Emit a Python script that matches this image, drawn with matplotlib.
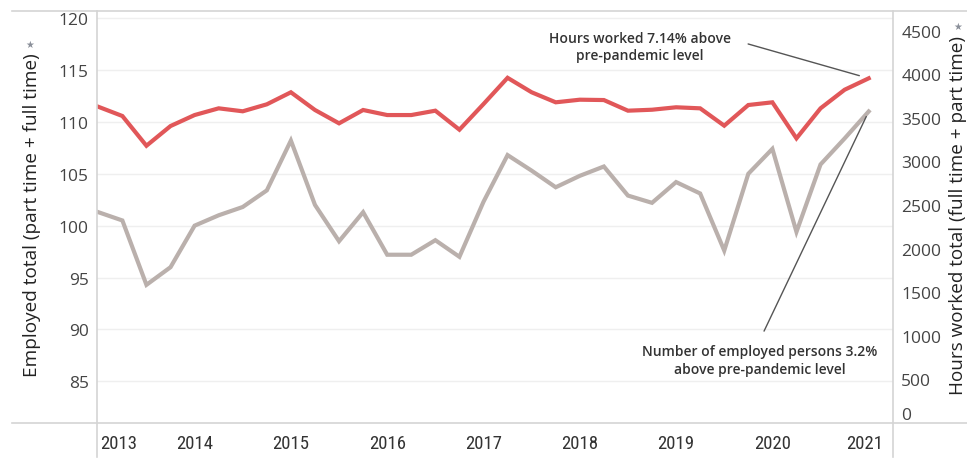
import matplotlib
matplotlib.use("Agg")
import matplotlib.pyplot as plt
from matplotlib.lines import Line2D
from matplotlib.transforms import ScaledTranslation

# ---- data (quarterly, 2013 Q1 .. 2021 Q1) ----
quarters = list(range(33))
employed_total = [101.3, 100.5, 94.3, 96.0, 100.0, 101.0, 101.8, 103.4, 108.2, 102.0,
                  98.5, 101.3, 97.2, 97.2, 98.6, 97.0, 102.3, 106.8, 105.3, 103.7,
                  104.8, 105.7, 102.9, 102.2, 104.2, 103.1, 97.6, 105.0, 107.4, 99.4,
                  105.9, 108.4, 111.0]
hours_worked = [3626, 3520, 3179, 3405, 3531, 3608, 3574, 3654, 3792, 3589,
                3436, 3589, 3531, 3531, 3581, 3363, 3657, 3958, 3792, 3677,
                3707, 3703, 3581, 3592, 3620, 3608, 3409, 3646, 3677, 3264,
                3608, 3821, 3952]
year_ticks = [0, 4, 8, 12, 16, 20, 24, 28, 32]
year_labels = ["2013", "2014", "2015", "2016", "2017", "2018", "2019", "2020", "2021"]
left_ticks = [85, 90, 95, 100, 105, 110, 115, 120]
right_ticks = [0, 500, 1000, 1500, 2000, 2500, 3000, 3500, 4000, 4500]

RED = "#e15759"
GRAY = "#bab0ac"
TXT = "#444444"
FRAME = "#d4d4d4"
GRID = "#efefef"

W, H = 967, 460
fig = plt.figure(figsize=(W / 100, H / 100), dpi=100)
x0, x1, ytop, ybot = 97, 893, 12, 424
ax = fig.add_axes([x0 / W, 1 - ybot / H, (x1 - x0) / W, (ybot - ytop) / H])
ax2 = ax.twinx()

ax.set_xlim(-0.054, 33.01)
ax.set_ylim(80.99, 120.68)
ax2.set_ylim(0, 4724)

ax.set_yticks(left_ticks)
ax.set_yticklabels([str(t) for t in left_ticks])
ax2.set_yticks(right_ticks)
ax2.set_yticklabels([str(t) for t in right_ticks])
ax.grid(axis="y", color=GRID, lw=1)
ax.set_axisbelow(True)

ax.plot(quarters, employed_total, color=GRAY, lw=3.0, solid_joinstyle="miter", zorder=3)
ax2.plot(quarters, hours_worked, color=RED, lw=3.0, solid_joinstyle="miter", zorder=3)

for a in (ax, ax2):
    for s in a.spines.values():
        s.set_visible(False)
    a.tick_params(length=0, colors=TXT, labelsize=12.5)
    for lab in a.get_yticklabels():
        lab.set_family(["Open Sans", "DejaVu Sans"])
ax.tick_params(axis="y", pad=6)
ax2.tick_params(axis="y", pad=6)
rl = ax2.get_yticklabels()
rl[0].set_va("bottom")

ax.set_xticks(year_ticks)
ax.set_xticklabels(year_labels)
ax.tick_params(axis="x", pad=8, labelsize=13.5, colors="#333333")
xl = ax.get_xticklabels()
for lab in xl:
    lab.set_family(["Roboto Condensed", "Roboto", "DejaVu Sans"])
xl[0].set_ha("left")
xl[-1].set_ha("right")
xl[-1].set_transform(xl[-1].get_transform() + ScaledTranslation(14 / 100, 0, fig.dpi_scale_trans))
xl[0].set_transform(xl[0].get_transform() + ScaledTranslation(2 / 100, 0, fig.dpi_scale_trans))

# frame lines
fig.add_artist(Line2D([12 / W, 1], [1 - ytop / H] * 2, color=FRAME, lw=1.2))
fig.add_artist(Line2D([12 / W, 1], [1 - ybot / H] * 2, color=FRAME, lw=1.2))
fig.add_artist(Line2D([x0 / W] * 2, [1 - ytop / H, 1 - 458 / H], color=FRAME, lw=1.2))
fig.add_artist(Line2D([x1 / W] * 2, [1 - ytop / H, 1 - 458 / H], color=FRAME, lw=1.2))

# axis titles
fig.text(32 / W, 1 - 215 / H, "Employed total (part time + full time)", rotation=90,
         ha="center", va="center", fontsize=13.7, color="#222222", family=["Open Sans", "DejaVu Sans"])
fig.text(30 / W, 1 - 45 / H, "★", ha="center", va="center", fontsize=7, color="#8a8f99")
fig.text(958 / W, 1 - 216 / H, "Hours worked total (full time + part time)", rotation=90,
         ha="center", va="center", fontsize=13.6, color="#222222", family=["Open Sans", "DejaVu Sans"])
fig.text(958 / W, 1 - 27 / H, "★", ha="center", va="center", fontsize=7, color="#8a8f99")

# annotations
ax2.annotate("", xy=(quarters[-1], hours_worked[-1]), xycoords="data",
             xytext=(0.818, 0.920), textcoords="axes fraction",
             arrowprops=dict(arrowstyle="-", color="#555555", lw=1, shrinkA=0, shrinkB=7))
ax.text(0.682, 0.914, "Hours worked 7.14% above\npre-pandemic level", transform=ax.transAxes,
        ha="center", va="center", fontsize=10, color="#333333", weight="semibold",
        family=["Open Sans", "DejaVu Sans"], linespacing=1.35, zorder=5)
ax.annotate("", xy=(quarters[-1], employed_total[-1]), xycoords="data",
            xytext=(0.838, 0.223), textcoords="axes fraction",
            arrowprops=dict(arrowstyle="-", color="#555555", lw=1, shrinkA=0, shrinkB=4))
ax.text(0.833, 0.152, "Number of employed persons 3.2%\nabove pre-pandemic level", transform=ax.transAxes,
        ha="center", va="center", fontsize=10, color="#333333", weight="semibold",
        family=["Open Sans", "DejaVu Sans"], linespacing=1.35, zorder=5)

fig.savefig("out.png", dpi=100)
